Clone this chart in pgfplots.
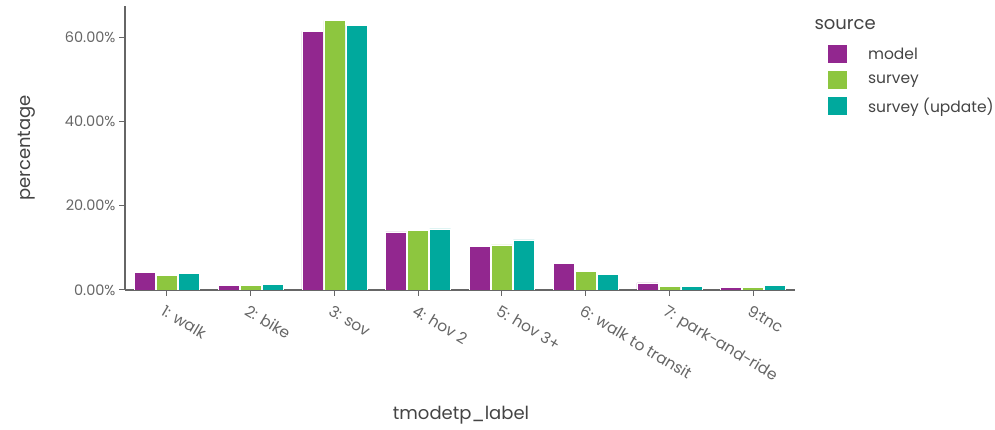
\documentclass[border=0pt]{standalone}
\usepackage{fontspec}
\setmainfont{Poppins}
\usepackage{pgfplots}
\pgfplotsset{compat=1.18}
\definecolor{cmodel}{HTML}{92278F}
\definecolor{csurvey}{HTML}{8DC63F}
\definecolor{cupdate}{HTML}{00A99D}
\definecolor{txt}{HTML}{444444}
\definecolor{ticklab}{HTML}{666666}
\definecolor{axcol}{HTML}{666666}
\begin{document}
\begin{tikzpicture}[x=1pt,y=1pt]
\path[use as bounding box] (0,0) rectangle (995,430);
\begin{axis}[
  at={(125pt,140pt)}, anchor=south west,
  width=670pt, height=284pt, scale only axis,
  xmin=-0.5, xmax=7.5, ymin=0, ymax=67.4,
  axis x line*=bottom, axis y line*=left,
  axis line style={axcol, line width=1.2pt},
  ybar=1pt, bar width=21pt,
  xtick={0,...,7},
  xticklabels={1: walk, 2: bike, 3: sov, 4: hov 2, 5: hov 3+, 6: walk to transit, 7: park-and-ride, 9:tnc},
  x tick label style={rotate=-31, anchor=north west, font=\fontsize{15.5}{17}\selectfont, text=ticklab, xshift=0pt, yshift=-4pt},
  ytick={0,20,40,60},
  yticklabels={0.00\%,20.00\%,40.00\%,60.00\%},
  y tick label style={font=\fontsize{14.5}{16}\selectfont, text=ticklab},
  tick align=outside, major tick length=6pt,
  tick style={axcol, line width=1pt},
  legend style={at={(1.049,0.862)}, anchor=north west, draw=none, fill=none,
     font=\fontsize{15.5}{17}\selectfont, text=txt, row sep=7.5pt, inner xsep=0pt, inner ysep=0pt},
  legend cell align=left,
  legend image code/.code={\fill[#1, draw=none] (0pt,-9pt) rectangle (19pt,9pt); \path[draw=none, fill=none] (0pt,0pt) -- (38pt,0pt);},
]
\addplot[fill=cmodel, draw=white, line width=0.6pt] coordinates {(0,4.1) (1,1.1) (2,61.4) (3,13.8) (4,10.4) (5,6.3) (6,1.7) (7,0.6)};
\addplot[fill=csurvey, draw=white, line width=0.6pt] coordinates {(0,3.5) (1,1.1) (2,63.9) (3,14.2) (4,10.7) (5,4.5) (6,0.8) (7,0.6)};
\addplot[fill=cupdate, draw=white, line width=0.6pt] coordinates {(0,3.9) (1,1.3) (2,62.8) (3,14.5) (4,11.9) (5,3.7) (6,0.8) (7,1.0)};
\legend{model, survey, survey (update)}
\end{axis}
\node[anchor=west, text=txt, font=\fontsize{18}{20}\selectfont] at (811,405) {source};
\node[rotate=90, text=txt, font=\fontsize{18}{20}\selectfont] at (27,282) {percentage};
\node[text=txt, font=\fontsize{18}{20}\selectfont] at (461,15) {tmodetp\_label};
\end{tikzpicture}
\end{document}
